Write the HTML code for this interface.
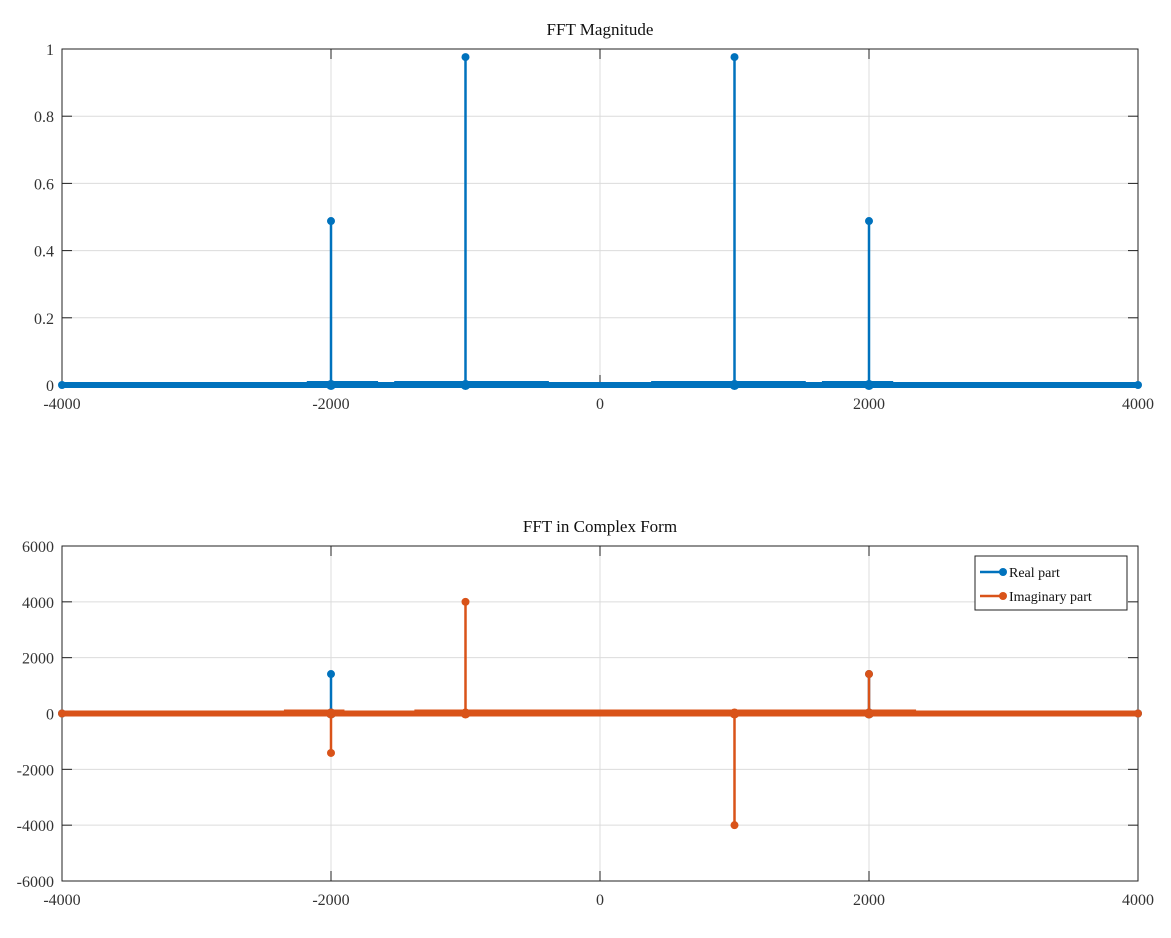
<!DOCTYPE html>
<html><head><meta charset="utf-8"><style>
body{margin:0;background:#fff}
svg{display:block;font-family:"Liberation Serif",serif}
</style></head><body>
<svg id="chart" width="1171" height="938" viewBox="0 0 1171 938"></svg>
<script>
const xTicks=[-4000,-2000,0,2000,4000];
const magTicks=[0,0.2,0.4,0.6,0.8,1];
const cTicks=[-6000,-4000,-2000,0,2000,4000,6000];
const magFreqs=[-2000,-1000,1000,2000];
const magValues=[0.488,0.976,0.976,0.488];
const cFreqs=[-2000,-1000,1000,2000];
const realValues=[1414,0,0,1414];
const imagValues=[-1414,4000,-4000,1414];
const NS="http://www.w3.org/2000/svg";
const svg=document.getElementById('chart');
function el(t,a,p){const e=document.createElementNS(NS,t);for(const k in a)e.setAttribute(k,a[k]);(p||svg).appendChild(e);return e;}
const L=62,R=1138;
const sx=v=>L+(v+4000)/8000*(R-L);
const top1=49,bot1=385;const sy1=v=>bot1-v*(bot1-top1);
const top2=546,bot2=881;const sy2=v=>bot2-(v+6000)/12000*(bot2-top2);
const blue='#0072BD',red='#D95319';
function axes(name,top,bot,yt,sy,fmt,title){
  const g=el('g',{});
  
  
  xTicks.forEach(t=>{const x=sx(t);
    if(t>-4000&&t<4000){const ln=el('line',{x1:x,x2:x,y1:top,y2:bot,stroke:'#dcdcdc','stroke-width':1},g);}
    el('line',{x1:x,x2:x,y1:bot,y2:bot-10,stroke:'#222'},g);el('line',{x1:x,x2:x,y1:top,y2:top+10,stroke:'#222'},g);
    const tx=el('text',{x:x,y:bot+24,'text-anchor':'middle','font-size':16,fill:'#333'},g);tx.textContent=t;
    });
  yt.forEach(t=>{const y=sy(t);
    if(y>top+1&&y<bot-1){const ln=el('line',{x1:L,x2:R,y1:y,y2:y,stroke:'#dcdcdc'},g);}
    el('line',{x1:L,x2:L+10,y1:y,y2:y,stroke:'#222'},g);el('line',{x1:R,x2:R-10,y1:y,y2:y,stroke:'#222'},g);
    const tx=el('text',{x:L-8,y:y+6,'text-anchor':'end','font-size':16,fill:'#333'},g);tx.textContent=fmt(t);
    });
  const b=el('rect',{x:L,y:top,width:R-L,height:bot-top,fill:'none',stroke:'#222'},g);
  
  const tt=el('text',{x:(L+R)/2,y:top-14,'text-anchor':'middle','font-size':17,fill:'#111'},g);tt.textContent=title;
  
}
axes('magnitude-axes',top1,bot1,magTicks,sy1,t=>t,'FFT Magnitude');
axes('complex-axes',top2,bot2,cTicks,sy2,t=>t,'FFT in Complex Form');
function baseline(y,c,name){const b=el('line',{x1:L,x2:R,y1:y,y2:y,stroke:c,'stroke-width':6});
  el('circle',{cx:L,cy:y,r:4,fill:c});el('circle',{cx:R,cy:y,r:4,fill:c});}
function stem(x,y0,y1,c,name){const g=el('g',{});
  el('line',{x1:x,x2:x,y1:y0,y2:y1,stroke:c,'stroke-width':2.5},g);el('circle',{cx:x,cy:y1,r:4,fill:c},g);el('circle',{cx:x,cy:y0,r:5,fill:c},g);}
// magnitude
baseline(sy1(0),blue,'magnitude-baseline');
[[-2180,-1650],[-1530,-380],[380,1530],[1650,2180]].forEach(s=>el('line',{x1:sx(s[0]),x2:sx(s[1]),y1:sy1(0)-1.5,y2:sy1(0)-1.5,stroke:blue,'stroke-width':5}));
magFreqs.forEach((f,i)=>stem(sx(f),sy1(0),sy1(magValues[i]),blue,'magnitude-stem'));
// complex
baseline(sy2(0),blue,'real-baseline');
cFreqs.forEach((f,i)=>{if(realValues[i]!==0)stem(sx(f),sy2(0),sy2(realValues[i]),blue,'real-stem');});
baseline(sy2(0),red,'imag-baseline');
[[-2350,-1900],[-1380,2350]].forEach(s=>el('line',{x1:sx(s[0]),x2:sx(s[1]),y1:sy2(0)-2,y2:sy2(0)-2,stroke:red,'stroke-width':4}));
cFreqs.forEach((f,i)=>stem(sx(f),sy2(0),sy2(imagValues[i]),red,'imag-stem'));
// legend
const lg=el('g',{});
el('rect',{x:975,y:556,width:152,height:54,fill:'#fff',stroke:'#222'},lg);
[['Real part',blue,572,'legend-entry-real'],['Imaginary part',red,596,'legend-entry-imag']].forEach(e=>{
  const g=el('g',{},lg);
  el('line',{x1:980,x2:1003,y1:e[2],y2:e[2],stroke:e[1],'stroke-width':2.5},g);
  el('circle',{cx:1003,cy:e[2],r:4,fill:e[1]},g);
  const t=el('text',{x:1009,y:e[2]+5,'font-size':14,fill:'#111'},g);t.textContent=e[0];});
</script>
</body></html>
